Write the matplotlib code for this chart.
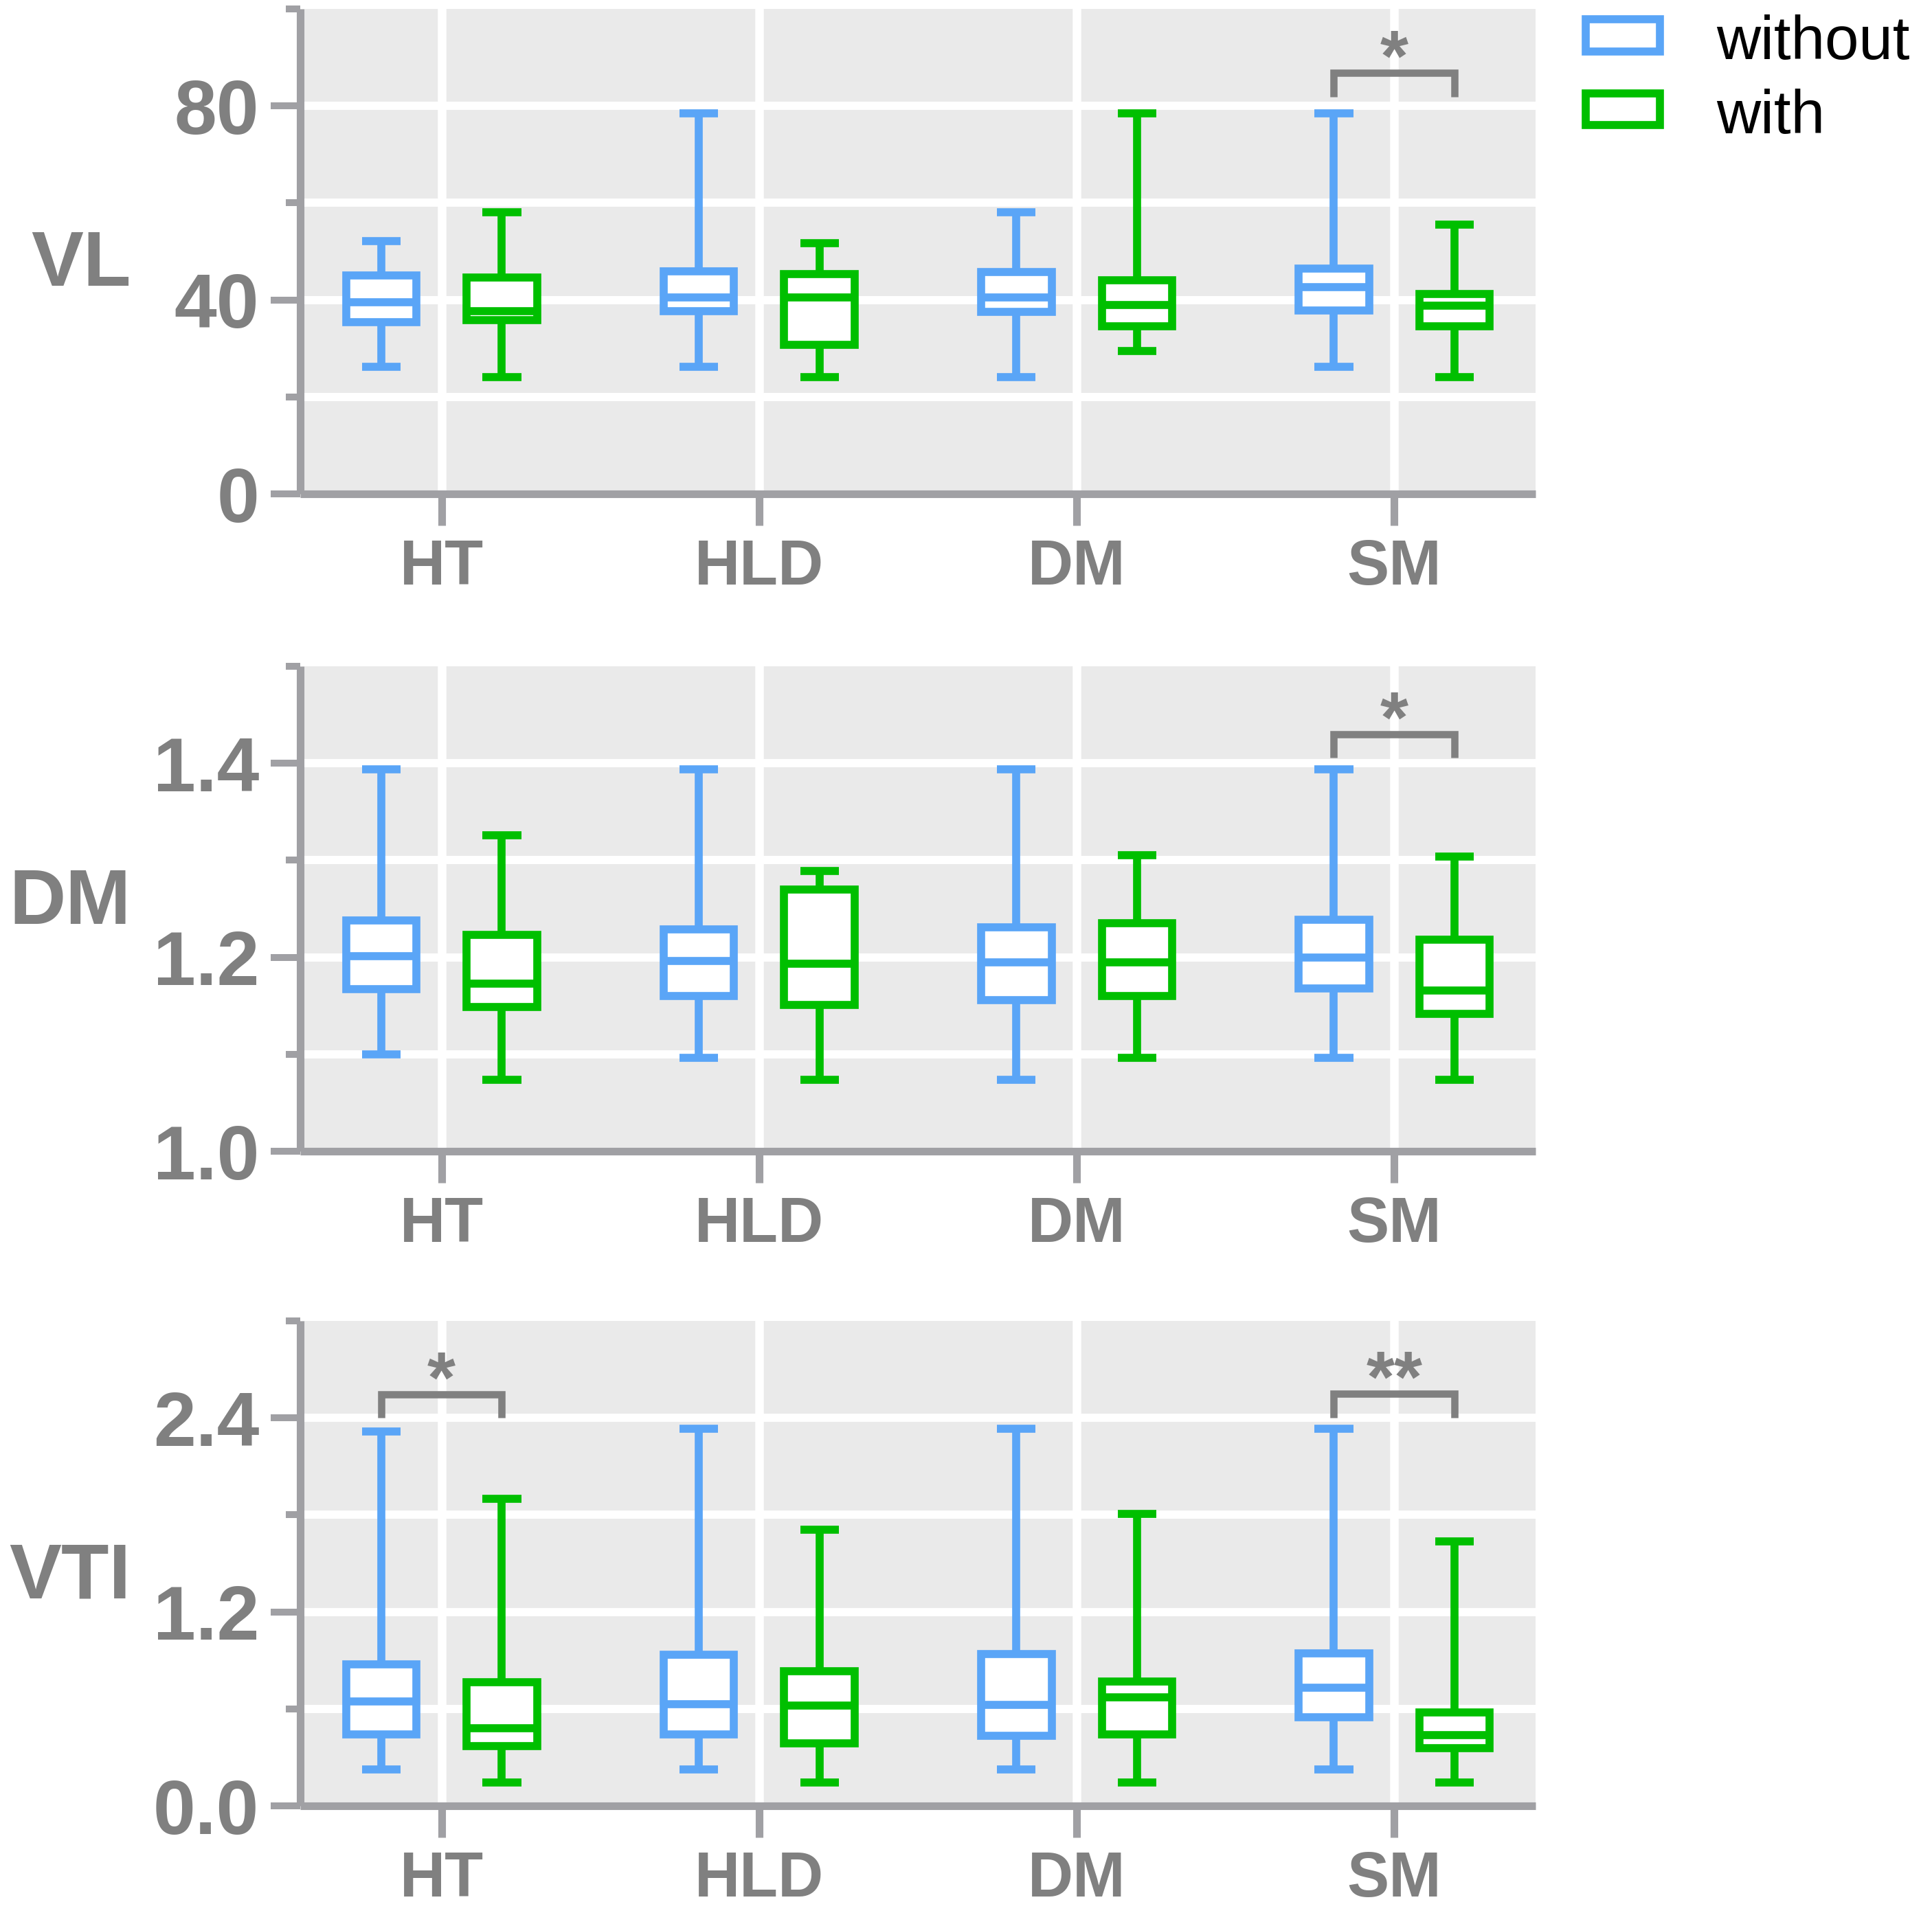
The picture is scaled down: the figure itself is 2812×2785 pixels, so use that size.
import matplotlib
matplotlib.use("Agg")
import matplotlib.pyplot as plt
from matplotlib.patches import Rectangle
from matplotlib.ticker import FixedLocator

plt.rcParams['font.family'] = ['Liberation Sans', 'DejaVu Sans']

categories = ["HT", "HLD", "DM", "SM"]
groups = ["without", "with"]

# box stats per category: (whislo, q1, median, q3, whishi)
vl_without = [(26.2, 35.4, 39.6, 45.1, 52.1), (26.2, 37.7, 40.5, 45.9, 78.5),
              (24.1, 37.6, 40.5, 45.7, 58.1), (26.2, 37.8, 42.6, 46.5, 78.5)]
vl_with = [(24.1, 35.8, 37.7, 44.7, 58.1), (24.1, 30.8, 40.5, 45.3, 51.7),
           (29.5, 34.6, 39.0, 44.1, 78.5), (24.1, 34.6, 38.8, 41.2, 55.6)]

dm_without = [(1.100, 1.167, 1.201, 1.238, 1.394), (1.096, 1.160, 1.196, 1.229, 1.394),
              (1.074, 1.156, 1.195, 1.231, 1.394), (1.096, 1.168, 1.200, 1.239, 1.394)]
dm_with = [(1.074, 1.149, 1.173, 1.223, 1.326), (1.074, 1.151, 1.193, 1.270, 1.289),
           (1.096, 1.160, 1.195, 1.235, 1.305), (1.074, 1.142, 1.166, 1.218, 1.304)]

vti_without = [(0.227, 0.443, 0.648, 0.877, 2.315), (0.227, 0.443, 0.629, 0.933, 2.334),
               (0.227, 0.434, 0.624, 0.940, 2.334), (0.227, 0.548, 0.731, 0.945, 2.334)]
vti_with = [(0.146, 0.370, 0.480, 0.763, 1.898), (0.146, 0.387, 0.621, 0.833, 1.708),
            (0.146, 0.443, 0.672, 0.770, 1.805), (0.146, 0.358, 0.439, 0.580, 1.635)]

# significance brackets: (category index, bar y, leg y, label)
vl_sig = [(3, 86.8, 81.9, "*")]
dm_sig = [(3, 1.430, 1.406, "*")]
vti_sig = [(0, 2.545, 2.402, "*"), (3, 2.548, 2.402, "**")]

panels = [
    dict(name="VL", data=(vl_without, vl_with), sig=vl_sig, ylim=(0, 100),
         major=[0, 40, 80], minor=[20, 60, 100], grid=[20, 40, 60, 80], fmt="{:.0f}"),
    dict(name="DM", data=(dm_without, dm_with), sig=dm_sig, ylim=(1.0, 1.5),
         major=[1.0, 1.2, 1.4], minor=[1.1, 1.3, 1.5], grid=[1.1, 1.2, 1.3, 1.4], fmt="{:.1f}"),
    dict(name="VTI", data=(vti_without, vti_with), sig=vti_sig, ylim=(0, 3.0),
         major=[0.0, 1.2, 2.4], minor=[0.6, 1.8, 3.0], grid=[0.6, 1.2, 1.8, 2.4], fmt="{:.1f}"),
]

BLUE = "#5aa5f7"
GREEN = "#00bf00"
AXIS_GREY = "#a0a0a4"
TEXT_GREY = "#808080"
BG = "#eaeaea"
LW = 4.2
OFFSET = 0.19

fig = plt.figure(figsize=(14.06, 13.925), dpi=200)

left, width, height = 0.1554, 0.6394, 0.2535
bottoms = [0.7418, 0.3982, 0.0560]

for p, bottom in zip(panels, bottoms):
    ax = fig.add_axes([left, bottom, width, height])
    ax.set_facecolor(BG)
    for s in ["top", "right"]:
        ax.spines[s].set_visible(False)
    for s in ["left", "bottom"]:
        ax.spines[s].set_color(AXIS_GREY)
        ax.spines[s].set_linewidth(4.0)
        ax.spines[s].set_capstyle("butt")

    # grid
    for g in p["grid"]:
        ax.axhline(g, color="white", lw=4.3, zorder=0.5)
    for i in range(len(categories)):
        ax.axvline(i, color="white", lw=4.5, zorder=0.5)

    for gi, (stats, color) in enumerate(zip(p["data"], [BLUE, GREEN])):
        bx = [dict(whislo=s[0], q1=s[1], med=s[2], q3=s[3], whishi=s[4], fliers=[])
              for s in stats]
        pos = [i + (-OFFSET if gi == 0 else OFFSET) for i in range(len(categories))]
        art = ax.bxp(bx, positions=pos, widths=0.222, capwidths=0.122,
                     patch_artist=True, showfliers=False, manage_ticks=False,
                     boxprops=dict(facecolor="white", edgecolor=color, linewidth=LW,
                                   joinstyle="miter"),
                     whiskerprops=dict(color=color, linewidth=LW, solid_capstyle="butt"),
                     capprops=dict(color=color, linewidth=LW, solid_capstyle="butt"),
                     medianprops=dict(color=color, linewidth=LW, solid_capstyle="butt"))
        for b in art["boxes"]:
            b.set_zorder(3)
        for k in ["whiskers", "caps"]:
            for l in art[k]:
                l.set_zorder(2.5)
        for l in art["medians"]:
            l.set_zorder(3.5)

    # significance brackets
    for ci, ybar, yleg, label in p["sig"]:
        x0, x1 = ci - OFFSET, ci + OFFSET
        ax.plot([x0, x0, x1, x1], [yleg, ybar, ybar, yleg], color=TEXT_GREY, lw=3.8,
                solid_joinstyle="miter", solid_capstyle="butt", zorder=4, clip_on=False)
        ax.annotate(label, xy=(ci, ybar), xytext=(0, -12), textcoords="offset points",
                    ha="center", va="bottom", fontsize=38, fontweight="bold",
                    color=TEXT_GREY, zorder=5)

    ax.set_xlim(-0.445, 3.445)
    ax.set_ylim(*p["ylim"])
    ax.set_xticks(range(len(categories)))
    ax.set_xticklabels(categories)
    ax.yaxis.set_major_locator(FixedLocator(p["major"]))
    ax.yaxis.set_minor_locator(FixedLocator(p["minor"]))
    ax.set_yticklabels([p["fmt"].format(v) for v in p["major"]])
    ax.tick_params(axis="y", which="major", length=15.5, width=3.6, color=AXIS_GREY,
                   labelsize=40, labelcolor=TEXT_GREY, pad=6)
    ax.tick_params(axis="y", which="minor", length=7.4, width=3.6, color=AXIS_GREY)
    ax.tick_params(axis="x", which="major", length=16.5, width=4.0, color=AXIS_GREY,
                   labelsize=33, labelcolor=TEXT_GREY, pad=7)
    for t in ax.get_xticklabels() + ax.get_yticklabels():
        t.set_fontweight("bold")

    ax.set_ylabel(p["name"], rotation=0, ha="right", va="center", fontsize=41,
                  fontweight="bold", color=TEXT_GREY)
    ax.yaxis.set_label_coords(-0.137, 0.47 if p["name"] != "DM" else 0.51)

# legend drawn by hand at the top right
for color, yc, label, ybase in [(BLUE, 0.9815, groups[0], 0.9691),
                                (GREEN, 0.9429, groups[1], 0.9303)]:
    fig.add_artist(Rectangle((0.8208, yc - 0.0083), 0.0384, 0.0166, transform=fig.transFigure,
                             facecolor="white", edgecolor=color, linewidth=LW,
                             joinstyle="miter"))
    fig.text(0.8883, ybase, label, ha="left", va="baseline", fontsize=32, color="black")

fig.savefig("out.png", dpi=200)
